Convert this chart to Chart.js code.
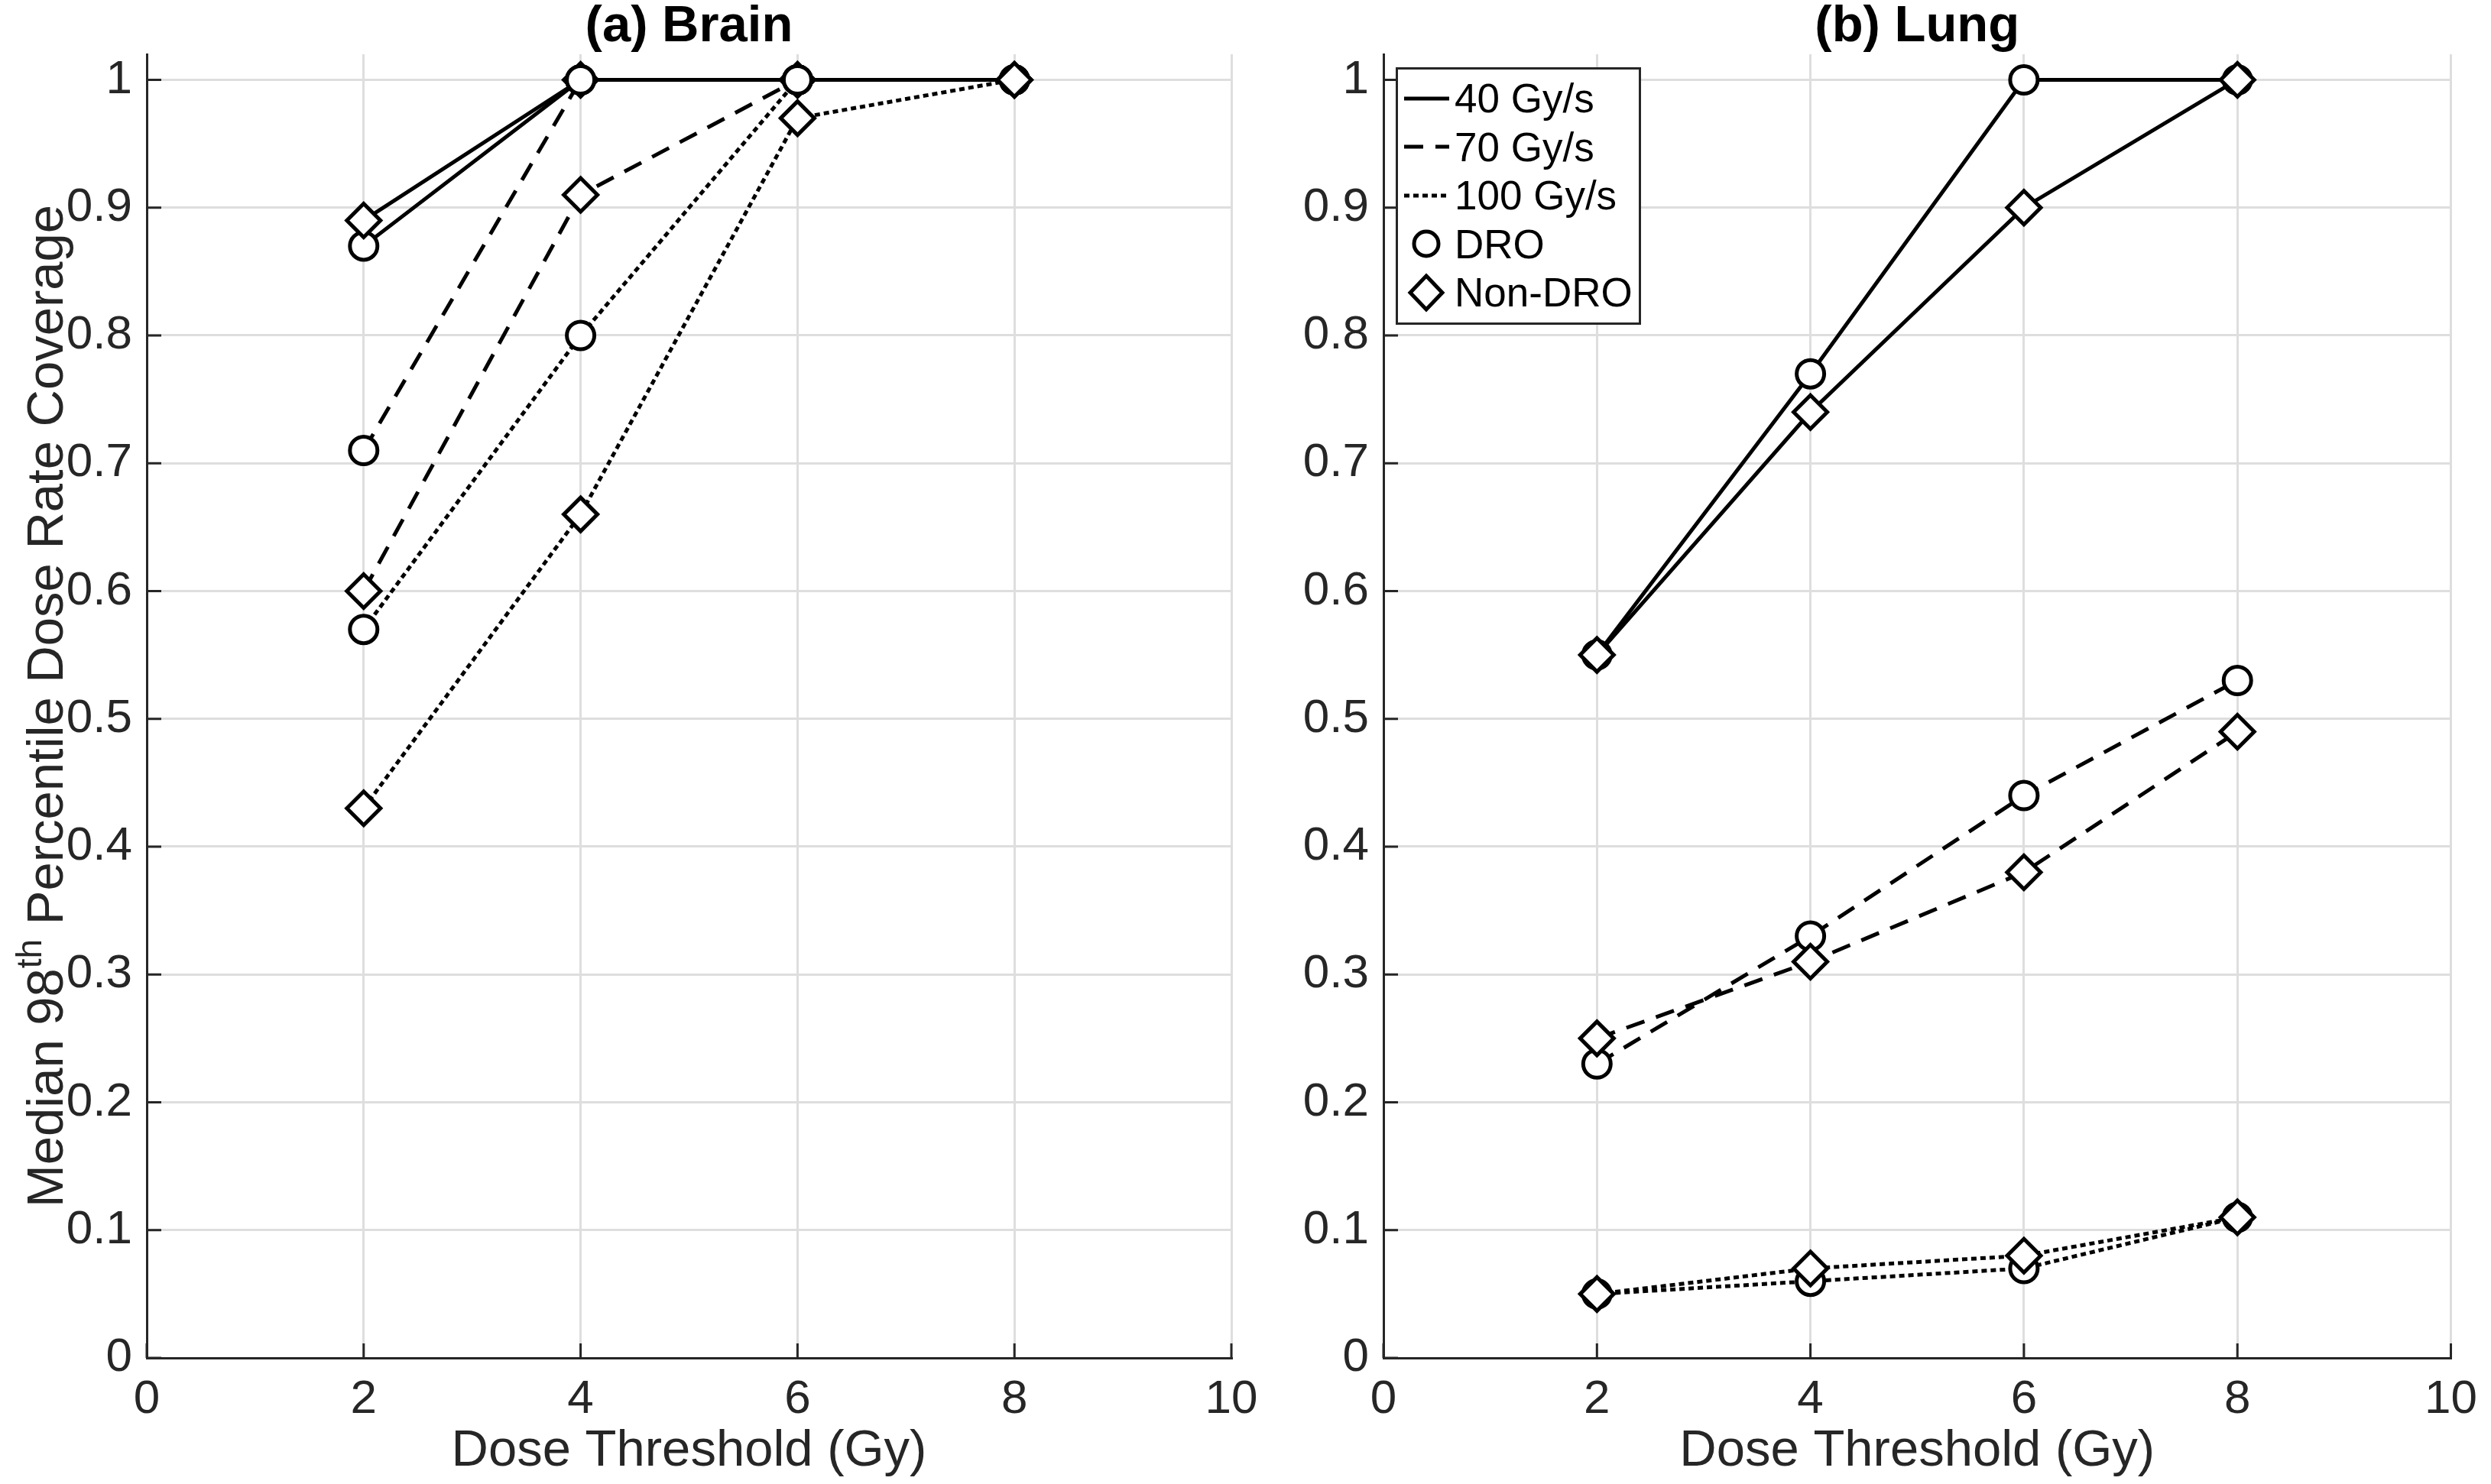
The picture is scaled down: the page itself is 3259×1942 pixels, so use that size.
<!DOCTYPE html>
<html>
<head>
<meta charset="utf-8">
<script src="https://cdn.jsdelivr.net/npm/chart.js@4.4.1/dist/chart.umd.min.js"></script>
<style>
  html, body { margin: 0; padding: 0; background: #fff; }
  body { position: relative; width: 3259px; height: 1942px; overflow: hidden; }
  canvas { position: absolute; top: 0; }
  #brainChart { left: 0; }
  #lungChart { left: 1680px; }
  #legend {
    position: absolute; left: 1826px; top: 88px; width: 315px; height: 325px;
    border: 3px solid #262626; background: #fff; box-sizing: content-box;
    font-family: "Liberation Sans", Arial, Helvetica, sans-serif; font-size: 53px; color: #000;
    padding-top: 6px; white-space: nowrap; overflow: hidden;
  }
  #legend .row { display: flex; align-items: center; height: 63.5px; }
  #legend svg { width: 74px; height: 60px; flex: none; }
  #legend span { line-height: 1; white-space: nowrap; }
</style>
</head>
<body>
<canvas id="brainChart" width="1680" height="1942"></canvas>
<canvas id="lungChart" width="1579" height="1942"></canvas>
<div id="legend"></div>
<script>
// dose thresholds (Gy) on the x axis
const doseThresholds = [2, 4, 6, 8];
const xTicks = [0, 2, 4, 6, 8, 10];
const yTicks = [0, 0.1, 0.2, 0.3, 0.4, 0.5, 0.6, 0.7, 0.8, 0.9, 1];

// (a) Brain
const brainDro40 = [0.87, 1, 1, 1];
const brainNonDro40 = [0.89, 1, 1, 1];
const brainDro70 = [0.71, 1, 1, 1];
const brainNonDro70 = [0.60, 0.91, 1, 1];
const brainDro100 = [0.57, 0.80, 1, 1];
const brainNonDro100 = [0.43, 0.66, 0.97, 1];

// (b) Lung
const lungDro40 = [0.55, 0.77, 1, 1];
const lungNonDro40 = [0.55, 0.74, 0.90, 1];
const lungDro70 = [0.23, 0.33, 0.44, 0.53];
const lungNonDro70 = [0.25, 0.31, 0.38, 0.49];
const lungDro100 = [0.05, 0.06, 0.07, 0.11];
const lungNonDro100 = [0.05, 0.07, 0.08, 0.11];

const FONT = '"Liberation Sans", Arial, Helvetica, sans-serif';
const AXIS = "#262626";
const GRID = "#dedede";

const dashes = { 40: [], 70: [25, 16], 100: [7, 5] };

const series = (dro, nonDro, rate) => [
  { label: rate + " Gy/s DRO", data: dro, borderDash: dashes[rate], pointStyle: "circle", pointRadius: 18 },
  { label: rate + " Gy/s Non-DRO", data: nonDro, borderDash: dashes[rate], pointStyle: "rectRot", pointRadius: 22 },
];

const makeDatasets = (list) =>
  list
    .map((s) => ({
      ...s,
      data: s.data.map((v, i) => ({ x: doseThresholds[i], y: v })),
      borderColor: "#000",
      borderWidth: 5,
      tension: 0,
      fill: false,
      pointBackgroundColor: "#fff",
      pointBorderColor: "#000",
      pointBorderWidth: 5,
      pointHoverRadius: s.pointRadius,
    }))
    .reverse(); // first dataset is drawn on top in Chart.js

const innerTicks = {
  id: "innerTicks",
  beforeDatasetsDraw(chart) {
    const { ctx, chartArea: a, scales } = chart;
    ctx.save();
    ctx.strokeStyle = AXIS;
    ctx.lineWidth = 3;
    ctx.beginPath();
    scales.x.ticks.forEach((t) => {
      const px = scales.x.getPixelForValue(t.value);
      ctx.moveTo(px, a.bottom);
      ctx.lineTo(px, a.bottom - 19);
    });
    scales.y.ticks.forEach((t) => {
      const py = scales.y.getPixelForValue(t.value);
      ctx.moveTo(a.left, py);
      ctx.lineTo(a.left + 19, py);
    });
    ctx.stroke();
    ctx.restore();
  },
};

const panelTitle = {
  id: "panelTitle",
  afterDraw(chart, args, opts) {
    const { ctx, chartArea: a } = chart;
    ctx.save();
    ctx.fillStyle = "#000";
    ctx.font = "bold 67px " + FONT;
    ctx.textAlign = "center";
    ctx.textBaseline = "middle";
    ctx.fillText(opts.text, (a.left + a.right) / 2, 36);
    if (opts.yTitle) {
      // y label with a superscript "th"
      const big = "67px " + FONT, small = "46px " + FONT;
      const [pre, sup, post] = opts.yTitle;
      ctx.font = big;
      const w1 = ctx.measureText(pre).width, w3 = ctx.measureText(post).width;
      ctx.font = small;
      const w2 = ctx.measureText(sup).width;
      const total = w1 + w2 + w3;
      ctx.translate(58, (a.top + a.bottom) / 2);
      ctx.rotate(-Math.PI / 2);
      ctx.textAlign = "left";
      ctx.textBaseline = "alphabetic";
      let x = -total / 2;
      const base = 24;
      ctx.fillStyle = AXIS;
      ctx.font = big;
      ctx.fillText(pre, x, base);
      x += w1;
      ctx.font = small;
      ctx.fillText(sup, x, base - 28);
      x += w2;
      ctx.font = big;
      ctx.fillText(post, x, base);
    }
    ctx.restore();
  },
};

const makeChart = (id, list, title, yAxisWidth, padRight, yTitle) => {
  const el = document.getElementById(id);
  return new Chart(el, {
    type: "line",
    data: { datasets: makeDatasets(list) },
    options: {
      responsive: false,
      animation: false,
      devicePixelRatio: 1,
      layout: { padding: { top: 71, right: padRight, left: 0, bottom: 0 } },
      plugins: {
        legend: { display: false },
        tooltip: { enabled: false },
        title: { display: false },
        panelTitle: { text: title, yTitle },
      },
      scales: {
        x: {
          type: "linear",
          min: 0,
          max: 10,
          afterBuildTicks: (s) => { s.ticks = xTicks.map((v) => ({ value: v })); },
          afterFit: (s) => { s.height = 165; },
          grid: { color: GRID, lineWidth: 3, drawTicks: false },
          border: { color: AXIS, width: 3 },
          ticks: { color: AXIS, font: { family: FONT, size: 62 }, padding: 18, maxRotation: 0 },
          title: { display: true, text: "Dose Threshold (Gy)", color: AXIS, font: { family: FONT, size: 67 }, padding: { top: 0, bottom: 2 } },
        },
        y: {
          type: "linear",
          min: 0,
          max: 1.02,
          afterBuildTicks: (s) => { s.ticks = yTicks.map((v) => ({ value: v })); },
          afterFit: (s) => { s.width = yAxisWidth; },
          grid: { color: GRID, lineWidth: 3, drawTicks: false },
          border: { color: AXIS, width: 3 },
          ticks: { color: AXIS, font: { family: FONT, size: 62 }, padding: 19, callback: (v) => String(+v.toFixed(2)) },
        },
      },
    },
    plugins: [innerTicks, panelTitle],
  });
};

makeChart(
  "brainChart",
  [
    ...series(brainDro40, brainNonDro40, 40),
    ...series(brainDro70, brainNonDro70, 70),
    ...series(brainDro100, brainNonDro100, 100),
  ],
  "(a) Brain",
  192,
  69,
  ["Median 98", "th", " Percentile Dose Rate Coverage"]
);

makeChart(
  "lungChart",
  [
    ...series(lungDro40, lungNonDro40, 40),
    ...series(lungDro70, lungNonDro70, 70),
    ...series(lungDro100, lungNonDro100, 100),
  ],
  "(b) Lung",
  130,
  32,
  null
);

// legend
const legendRows = [
  { text: "40 Gy/s", dash: dashes[40] },
  { text: "70 Gy/s", dash: dashes[70] },
  { text: "100 Gy/s", dash: dashes[100] },
  { text: "DRO", marker: "circle" },
  { text: "Non-DRO", marker: "diamond" },
];
document.getElementById("legend").innerHTML = legendRows
  .map((r) => {
    let g;
    if (r.marker === "circle") {
      g = '<circle cx="37" cy="30" r="16" fill="#fff" stroke="#000" stroke-width="5"/>';
    } else if (r.marker === "diamond") {
      g = '<polygon points="37,8 58,30 37,52 16,30" fill="#fff" stroke="#000" stroke-width="5"/>';
    } else {
      g = '<line x1="8" y1="30" x2="67" y2="30" stroke="#000" stroke-width="5" stroke-dasharray="' +
        (r.dash.length ? r.dash.join(",") : "none") + '"/>';
    }
    return '<div class="row"><svg viewBox="0 0 74 60">' + g + "</svg><span>" + r.text + "</span></div>";
  })
  .join("");
</script>
</body>
</html>
